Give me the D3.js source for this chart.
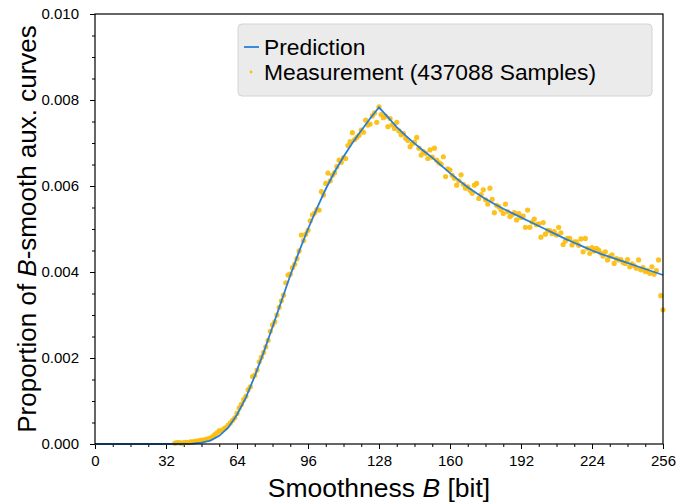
<!DOCTYPE html>
<html>
<head>
<meta charset="utf-8">
<script src="https://cdn.jsdelivr.net/npm/d3@7"></script>
<style>
  body { margin: 0; background: #fff; }
  svg { display: block; font-family: "Liberation Sans", Arial, sans-serif; }
</style>
</head>
<body>
<svg id="chart" width="677" height="502"></svg>
<script>
// ── Datos ──
// predicción, muestreada cada 4 bits
const predB = d3.range(0, 257, 4);
const predVals = [
  0, 0, 0, 0, 0, 0, 0, 0, 0, 0,
  0.000002, 0.00001, 0.00003, 0.00008, 0.00019, 0.00038, 0.00068, 0.00108,
  0.00158, 0.00213, 0.00272, 0.00332, 0.00392, 0.00448, 0.00500, 0.00548,
  0.00593, 0.00633, 0.00668, 0.00700, 0.00729, 0.00757, 0.00783,
  0.00760, 0.00737, 0.00717, 0.00699, 0.00682, 0.00666, 0.00648, 0.00630,
  0.00613, 0.00597, 0.00583, 0.00570, 0.00558, 0.00547, 0.00537, 0.00527,
  0.00517, 0.00507, 0.00497, 0.00487, 0.00477, 0.00468, 0.00459, 0.00450,
  0.00442, 0.00435, 0.00428, 0.00421, 0.00414, 0.00407, 0.00400, 0.00393
];

// medición, un punto por bit desde B = 36
const measStart = 36;
const measVals = [
  0.00002, 0.00003, 0.00003, 0.00002, 0.00003, 0.00004, 0.00003, 0.00005, 0.00005, 0.00006, // 36-45
  0.00007, 0.00008, 0.00009, 0.00009, 0.00011, 0.00012, 0.00014, 0.00017, 0.00022, 0.00026, // 46-55
  0.00031, 0.00030, 0.00035, 0.00038, 0.00044, 0.00049, 0.00055, 0.00061, 0.00071, 0.00084, // 56-65
  0.00092, 0.00103, 0.00111, 0.00126, 0.00133, 0.00157, 0.00160, 0.00172, 0.00191, 0.00202, // 66-75
  0.00213, 0.00226, 0.00241, 0.00262, 0.00277, 0.00284, 0.00300, 0.00318, 0.00333, 0.00346, // 76-85
  0.00375, 0.00393, 0.00395, 0.00410, 0.00418, 0.00431, 0.00449, 0.00486, 0.00473, 0.00488, // 86-95
  0.00497, 0.00519, 0.00533, 0.00537, 0.00545, 0.00544, 0.00587, 0.00579, 0.00606, 0.00630, // 96-105
  0.00612, 0.00625, 0.00631, 0.00645, 0.00660, 0.00655, 0.00666, 0.00664, 0.00694, 0.00703, // 106-115
  0.00724, 0.00708, 0.00713, 0.00718, 0.00730, 0.00725, 0.00753, 0.00742, 0.00744, 0.00763, // 116-125
  0.00770, 0.00748, 0.00784, 0.00766, 0.00759, 0.00762, 0.00738, 0.00757, 0.00742, 0.00734, // 126-135
  0.00748, 0.00728, 0.00719, 0.00722, 0.00711, 0.00706, 0.00691, 0.00698, 0.00702, 0.00713, // 136-145
  0.00688, 0.00672, 0.00680, 0.00676, 0.00664, 0.00684, 0.00667, 0.00688, 0.00660, 0.00654, // 146-155
  0.00651, 0.00668, 0.00622, 0.00640, 0.00637, 0.00625, 0.00618, 0.00602, 0.00612, 0.00626, // 156-165
  0.00604, 0.00595, 0.00598, 0.00590, 0.00583, 0.00602, 0.00606, 0.00571, 0.00580, 0.00591, // 166-175
  0.00568, 0.00558, 0.00595, 0.00569, 0.00538, 0.00555, 0.00552, 0.00545, 0.00536, 0.00558, // 176-185
  0.00540, 0.00529, 0.00533, 0.00538, 0.00521, 0.00536, 0.00527, 0.00530, 0.00504, 0.00544, // 186-195
  0.00504, 0.00516, 0.00523, 0.00510, 0.00512, 0.00481, 0.00515, 0.00488, 0.00497, 0.00496, // 196-205
  0.00489, 0.00494, 0.00486, 0.00504, 0.00491, 0.00464, 0.00472, 0.00478, 0.00478, 0.00463, // 206-215
  0.00470, 0.00470, 0.00462, 0.00477, 0.00447, 0.00478, 0.00455, 0.00443, 0.00457, 0.00449, // 216-225
  0.00455, 0.00451, 0.00444, 0.00437, 0.00447, 0.00428, 0.00436, 0.00440, 0.00420, 0.00431, // 226-235
  0.00428, 0.00429, 0.00422, 0.00420, 0.00429, 0.00412, 0.00419, 0.00415, 0.00409, 0.00428, // 236-245
  0.00405, 0.00410, 0.00401, 0.00404, 0.00397, 0.00412, 0.00395, 0.00403, 0.00428, 0.00345, // 246-255
  0.00312                                                                                    // 256
];

const xTicks = [0, 32, 64, 96, 128, 160, 192, 224, 256];
const xMinor = d3.range(0, 257, 8);
const yTicks = [0, 0.002, 0.004, 0.006, 0.008, 0.010];
const yMinor = d3.range(0, 0.01001, 0.0005);

const BLUE = "#2a7fd4";
const GOLD = "#fcbd0c";

// ── Escalas ──
const svg = d3.select("#chart");
const L = 95, R = 663, T = 14, B = 444;
const x = d3.scaleLinear().domain([0, 256]).range([L, R]);
const y = d3.scaleLinear().domain([0, 0.01]).range([B, T]);

// ── Ejes ──
svg.append("g").attr("transform", `translate(0,${B})`)
  .call(d3.axisBottom(x).tickValues(xMinor).tickSize(3).tickFormat(""))
  .call(g => g.select(".domain").remove());
svg.append("g").attr("transform", `translate(0,${B})`)
  .call(d3.axisBottom(x).tickValues(xTicks).tickSize(5).tickPadding(6).tickFormat(d3.format("d")))
  .call(g => g.select(".domain").remove())
  .call(g => g.selectAll("text").attr("font-size", 15).attr("fill", "#000").attr("font-family", "Liberation Sans, Arial, sans-serif"));

svg.append("g").attr("transform", `translate(${L},0)`)
  .call(d3.axisLeft(y).tickValues(yMinor).tickSize(3).tickFormat(""))
  .call(g => g.select(".domain").remove());
svg.append("g").attr("transform", `translate(${L},0)`)
  .call(d3.axisLeft(y).tickValues(yTicks).tickSize(5).tickPadding(11).tickFormat(d3.format(".3f")))
  .call(g => g.select(".domain").remove())
  .call(g => g.selectAll("text").attr("font-size", 15).attr("fill", "#000").attr("font-family", "Liberation Sans, Arial, sans-serif"));

// ── Medición (puntos) ──
svg.append("g").selectAll("circle")
  .data(measVals).join("circle")
  .attr("cx", (d, i) => x(measStart + i))
  .attr("cy", d => y(d))
  .attr("r", 2.6)
  .attr("fill", GOLD).attr("fill-opacity", 0.92);

// ── Predicción (línea) ──
svg.append("path")
  .datum(predVals)
  .attr("fill", "none").attr("stroke", BLUE).attr("stroke-width", 1.8)
  .attr("d", d3.line().x((d, i) => x(predB[i])).y(d => y(d)));

// marco
svg.append("rect")
  .attr("x", L).attr("y", T).attr("width", R - L).attr("height", B - T)
  .attr("fill", "none").attr("stroke", "#000").attr("stroke-width", 1.2);

// ── Leyenda ──
const leg = svg.append("g");
leg.append("rect")
  .attr("x", 238).attr("y", 24).attr("width", 414).attr("height", 72).attr("rx", 4)
  .attr("fill", "#ebebeb").attr("stroke", "#d4d4d4").attr("stroke-width", 1);
leg.append("line")
  .attr("x1", 244).attr("x2", 259).attr("y1", 47).attr("y2", 47)
  .attr("stroke", BLUE).attr("stroke-width", 1.8);
leg.append("circle").attr("cx", 251).attr("cy", 72).attr("r", 1.4).attr("fill", GOLD);
leg.append("text").attr("x", 264).attr("y", 55).attr("font-size", 22.8).text("Prediction");
leg.append("text").attr("x", 264).attr("y", 80).attr("font-size", 22.8).text("Measurement (437088 Samples)");

// ── Títulos de ejes ──
const xl = svg.append("text").attr("x", (L + R) / 2).attr("y", 497)
  .attr("text-anchor", "middle").attr("font-size", 26.5);
xl.append("tspan").text("Smoothness ");
xl.append("tspan").attr("font-style", "italic").text("B");
xl.append("tspan").text(" [bit]");

const yl = svg.append("text")
  .attr("transform", `translate(36,${(T + B) / 2}) rotate(-90)`)
  .attr("text-anchor", "middle").attr("font-size", 26);
yl.append("tspan").text("Proportion of ");
yl.append("tspan").attr("font-style", "italic").text("B");
yl.append("tspan").text("-smooth aux. curves");
</script>
</body>
</html>
